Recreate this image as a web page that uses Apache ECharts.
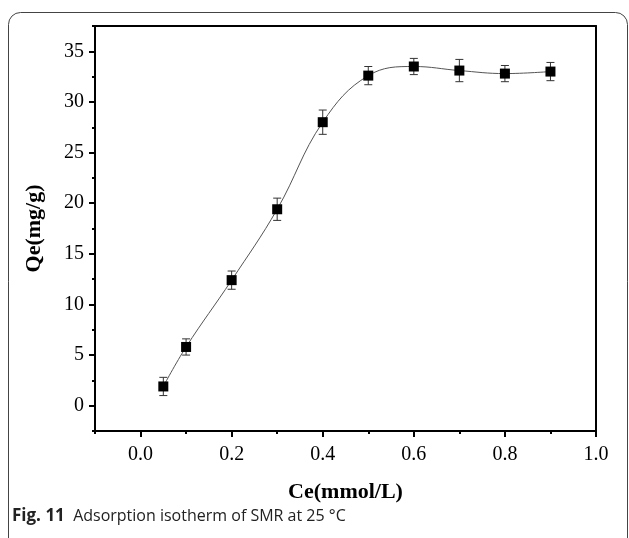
<!DOCTYPE html>
<html><head><meta charset="utf-8">
<script src="https://cdn.jsdelivr.net/npm/echarts@6/dist/echarts.min.js"></script>
<style>html,body{margin:0;padding:0;background:#fff}#c{width:629px;height:538px}</style>
</head><body><div id="c"></div>
<script>
// Data
const ceValues = [0.05, 0.1, 0.2, 0.3, 0.4, 0.5, 0.6, 0.7, 0.8, 0.9];
const qeValues = [1.9, 5.8, 12.4, 19.4, 28.0, 32.6, 33.5, 33.1, 32.8, 33.0];
const qeErrors = [0.9, 0.8, 0.9, 1.1, 1.2, 0.9, 0.8, 1.1, 0.8, 0.9];
const xTickLabels = ['0.0', '0.2', '0.4', '0.6', '0.8', '1.0'];
const yTickLabels = ['0', '5', '10', '15', '20', '25', '30', '35'];

const serif = 'Liberation Serif';
const chart = echarts.init(document.getElementById('c'), null, {renderer: 'canvas'});

const pts = ceValues.map((x, i) => [x, qeValues[i]]);
const errs = ceValues.map((x, i) => [x, qeValues[i] - qeErrors[i], qeValues[i] + qeErrors[i]]);

const axisLineStyle = {show: true, onZero: false, lineStyle: {color: '#000', width: 2}};
const hiddenLine = {show: false, onZero: false};

chart.setOption({
  animation: false,
  backgroundColor: '#fff',
  grid: [
    {left: 95, right: 33, top: 26, bottom: 107},
    {left: 140.6, right: 33, top: 51.3, bottom: 132.3}
  ],
  xAxis: [
    {gridIndex: 0, type: 'value', min: -0.1, max: 1.0, interval: 0.1, position: 'bottom',
     axisLine: axisLineStyle, axisTick: {show: true, length: 3, lineStyle: {width: 2, color: '#000'}},
     axisLabel: {show: false}, splitLine: {show: false},
     name: 'Ce(mmol/L)', nameLocation: 'middle', nameGap: 50,
     nameTextStyle: {fontFamily: serif, fontWeight: 'bold', fontSize: 22, color: '#000'}},
    {gridIndex: 0, type: 'value', min: -0.1, max: 1.0, position: 'top',
     axisLine: axisLineStyle, axisTick: {show: false}, axisLabel: {show: false}, splitLine: {show: false}},
    {gridIndex: 1, type: 'value', min: 0, max: 1.0, interval: 0.2, position: 'bottom', offset: 25.3,
     axisLine: hiddenLine, axisTick: {show: true, length: 6, lineStyle: {width: 2, color: '#000'}},
     axisLabel: {show: true, margin: 14, fontFamily: serif, fontSize: 20, color: '#000',
       formatter: (v) => xTickLabels[Math.round(v / 0.2)]},
     splitLine: {show: false}}
  ],
  yAxis: [
    {gridIndex: 0, type: 'value', min: -2.5, max: 37.5, interval: 2.5, position: 'left',
     axisLine: axisLineStyle, axisTick: {show: true, length: 3, lineStyle: {width: 2, color: '#000'}},
     axisLabel: {show: false}, splitLine: {show: false},
     name: 'Qe(mg/g)', nameLocation: 'middle', nameGap: 50,
     nameTextStyle: {fontFamily: serif, fontWeight: 'bold', fontSize: 22, color: '#000'}},
    {gridIndex: 0, type: 'value', min: -2.5, max: 37.5, position: 'right',
     axisLine: axisLineStyle, axisTick: {show: false}, axisLabel: {show: false}, splitLine: {show: false}},
    {gridIndex: 1, type: 'value', min: 0, max: 35, interval: 5, position: 'left', offset: 45.6,
     axisLine: hiddenLine, axisTick: {show: true, length: 6, lineStyle: {width: 2, color: '#000'}},
     axisLabel: {show: true, margin: 11, fontFamily: serif, fontSize: 20, color: '#000',
       formatter: (v) => yTickLabels[Math.round(v / 5)]},
     splitLine: {show: false}}
  ],
  series: [
    {
      type: 'custom', xAxisIndex: 0, yAxisIndex: 0, z: 2,
      data: errs,
      renderItem: function (params, api) {
        const x = api.value(0);
        const lo = api.coord([x, api.value(1)]);
        const hi = api.coord([x, api.value(2)]);
        const cap = 4;
        const st = {stroke: '#333', lineWidth: 1};
        return {type: 'group', children: [
          {type: 'line', shape: {x1: lo[0], y1: lo[1], x2: hi[0], y2: hi[1]}, style: st},
          {type: 'line', shape: {x1: lo[0] - cap, y1: lo[1], x2: lo[0] + cap, y2: lo[1]}, style: st},
          {type: 'line', shape: {x1: hi[0] - cap, y1: hi[1], x2: hi[0] + cap, y2: hi[1]}, style: st}
        ]};
      }
    },
    {
      type: 'line', xAxisIndex: 0, yAxisIndex: 0, z: 3,
      data: pts, smooth: 0.4,
      symbol: 'rect', symbolSize: 10,
      itemStyle: {color: '#000'},
      lineStyle: {color: '#555', width: 1}
    }
  ],
  graphic: [
    {type: 'rect', shape: {x: 8.5, y: 12.5, width: 619, height: 620, r: 12},
     style: {fill: 'none', stroke: '#444', lineWidth: 1}, z: 0, silent: true},
    {type: 'text', left: 12, top: 508,
     style: {text: '{b|Fig. 11}  Adsorption isotherm of SMR at 25 °C',
       font: '16px "Open Sans"', fill: '#222',
       rich: {b: {fontWeight: 'bold', fontFamily: 'Open Sans', fontSize: 17, fill: '#222'}}}}
  ]
});
</script>
</body></html>
